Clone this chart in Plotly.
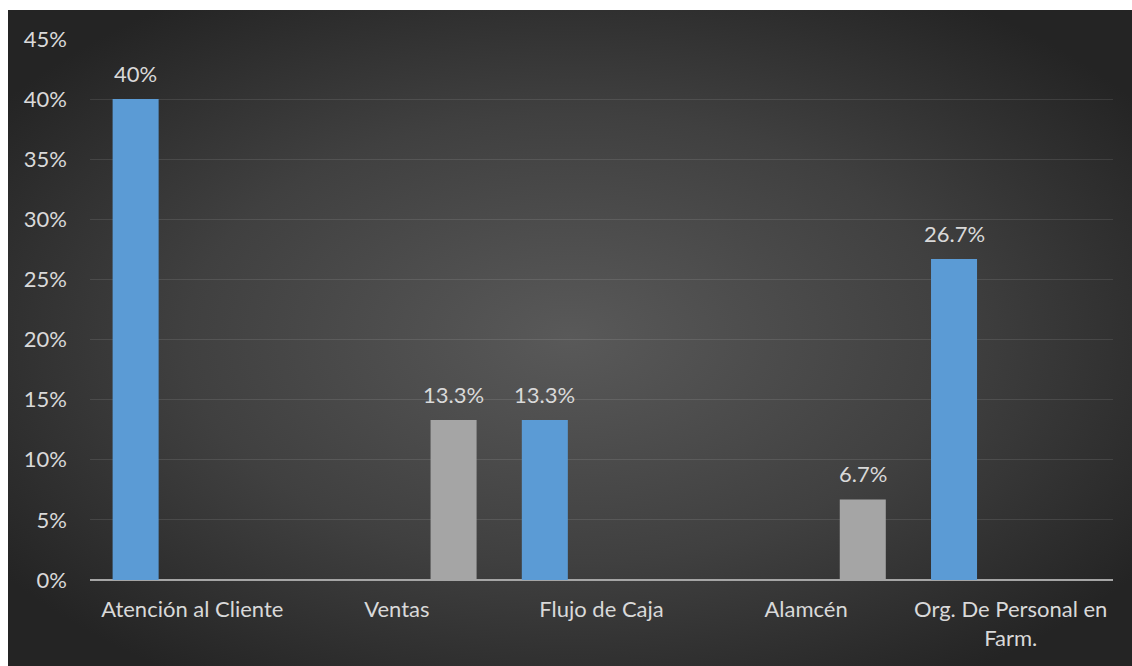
import base64
import plotly.graph_objects as go

# Categories and the two series (fractions)
categories = ["Atención al Cliente", "Ventas", "Flujo de Caja", "Alamcén",
              "Org. De Personal en<br>Farm."]
serie_azul = [0.40, None, 0.133, None, 0.267]
serie_gris = [None, 0.133, None, 0.067, None]
y_ticks = [0, 0.05, 0.10, 0.15, 0.20, 0.25, 0.30, 0.35, 0.40, 0.45]
y_tick_labels = ["0%", "5%", "10%", "15%", "20%", "25%", "30%", "35%", "40%", "45%"]

FONT = "Lato, 'Open Sans', sans-serif"
FONT_SIZE = 22
TEXT_COLOR = "#d9d9d9"
BAR_W = 0.225          # bar width in category units
HALF_SEP = 0.277       # distance of each bar centre from the category centre


def pct_label(v):
    s = f"{v * 100:.1f}"
    if s.endswith(".0"):
        s = s[:-2]
    return s + "%"


# radial gradient backdrop as an inline SVG
svg = (
    "<svg xmlns='http://www.w3.org/2000/svg' width='1124' height='656' "
    "preserveAspectRatio='none'>"
    "<defs><radialGradient id='g' cx='0.5' cy='0.5' r='0.62'>"
    "<stop offset='0' stop-color='#595959'/>"
    "<stop offset='0.55' stop-color='#404040'/>"
    "<stop offset='1' stop-color='#242424'/>"
    "</radialGradient></defs>"
    "<rect width='1124' height='656' fill='url(#g)'/></svg>"
)
svg_uri = "data:image/svg+xml;base64," + base64.b64encode(svg.encode()).decode()

fig = go.Figure()
fig.add_trace(go.Bar(
    x=list(range(len(categories))), y=serie_azul, width=BAR_W,
    offset=-HALF_SEP - BAR_W / 2,
    marker=dict(color="#5b9bd5", line=dict(width=0)),
    showlegend=False,
))
fig.add_trace(go.Bar(
    x=list(range(len(categories))), y=serie_gris, width=BAR_W,
    offset=HALF_SEP - BAR_W / 2,
    marker=dict(color="#a5a5a5", line=dict(width=0)),
    showlegend=False,
))

# value labels above each bar
annotations = []
for i, v in enumerate(serie_azul):
    if v is not None:
        annotations.append(dict(x=i - HALF_SEP, y=v, text=pct_label(v),
                                xref="x", yref="y", showarrow=False,
                                yanchor="bottom", yshift=10))
for i, v in enumerate(serie_gris):
    if v is not None:
        annotations.append(dict(x=i + HALF_SEP, y=v, text=pct_label(v),
                                xref="x", yref="y", showarrow=False,
                                yanchor="bottom", yshift=10))
for a in annotations:
    a["font"] = dict(family=FONT, size=FONT_SIZE, color=TEXT_COLOR)

fig.update_layout(
    width=1132, height=666,
    margin=dict(l=90, r=19, t=39, b=86),
    paper_bgcolor="#ffffff",
    plot_bgcolor="rgba(0,0,0,0)",
    barmode="overlay",
    font=dict(family=FONT, size=FONT_SIZE, color=TEXT_COLOR),
    annotations=annotations,
    images=[dict(source=svg_uri, xref="paper", yref="paper",
                 x=(8 - 90) / 1023, y=(580 - 10) / 541,
                 sizex=1124 / 1023, sizey=656 / 541,
                 sizing="stretch", xanchor="left", yanchor="top",
                 layer="below")],
    xaxis=dict(
        tickmode="array", tickvals=list(range(len(categories))),
        ticktext=categories, range=[-0.5, len(categories) - 0.5],
        showgrid=False, zeroline=False, showline=False, ticks="",
        ticklabelstandoff=14,
        tickfont=dict(family=FONT, size=FONT_SIZE, color=TEXT_COLOR),
    ),
    yaxis=dict(
        range=[0, 0.45], tickvals=y_ticks, ticktext=y_tick_labels,
        showgrid=True, gridcolor="rgba(255,255,255,0.10)", gridwidth=1,
        zeroline=True, zerolinecolor="#a6a6a6", zerolinewidth=2,
        showline=False, ticks="", ticklabelstandoff=22,
        tickfont=dict(family=FONT, size=FONT_SIZE, color=TEXT_COLOR),
    ),
)

fig.write_html("out.html")
